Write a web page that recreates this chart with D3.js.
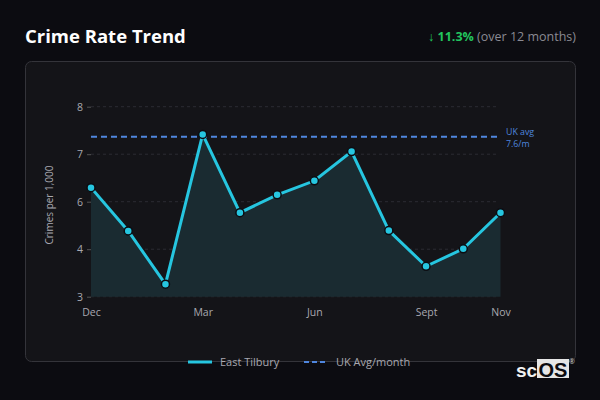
<!DOCTYPE html>
<html>
<head>
<meta charset="utf-8">
<script src="https://cdn.jsdelivr.net/npm/d3@7"></script>
<style>
  body { margin: 0; background: #0c0c11; }
  svg { display: block; font-family: "Open Sans", "Noto Sans", sans-serif; }
</style>
</head>
<body>
<div id="chart"></div>
<script>
const months = ["Dec", "Jan", "Feb", "Mar", "Apr", "May", "Jun", "Jul", "Aug", "Sept", "Oct", "Nov"];
const tickMonths = ["Dec", "Mar", "Jun", "Sept", "Nov"];
const rates = [5.87, 4.73, 3.33, 7.27, 5.21, 5.68, 6.05, 6.82, 4.74, 3.8, 4.26, 5.21];
const ukAvg = 7.21;
const ukAvgLabel = ["UK avg", "7.6/m"];
const yDomain = [3, 8];

const W = 600, H = 400;
const svg = d3.select("#chart").append("svg")
    .attr("width", W)
    .attr("height", H);

svg.append("rect").attr("width", W).attr("height", H).attr("fill", "#0c0c11");

// header
svg.append("text")
    .attr("x", 25).attr("y", 43)
    .attr("fill", "#ffffff")
    .attr("font-size", 18.5).attr("font-weight", 700)
    .text("Crime Rate Trend");

const change = svg.append("text")
    .attr("x", 576).attr("y", 41)
    .attr("text-anchor", "end")
    .attr("font-size", 12.5);
change.append("tspan").attr("fill", "#22c55e").text("↓ ");
change.append("tspan").attr("fill", "#22c55e").attr("font-weight", 700).text("11.3%");
change.append("tspan").attr("fill", "#8a8a92").text(" (over 12 months)");

// card
svg.append("rect")
    .attr("x", 25.5).attr("y", 61.5)
    .attr("width", 550).attr("height", 300)
    .attr("rx", 6)
    .attr("fill", "#141418")
    .attr("stroke", "#34343a");

const x = d3.scalePoint().domain(months).range([91, 500.5]);
const y = d3.scaleLinear().domain(yDomain).range([296.7, 106.7]);

// grid
const yTicks = d3.range(5).map(i => yDomain[0] + i * (yDomain[1] - yDomain[0]) / 4);
svg.append("g")
    .selectAll("line")
    .data(yTicks)
    .join("line")
    .attr("x1", 91).attr("x2", 497)
    .attr("y1", d => y(d)).attr("y2", d => y(d))
    .attr("stroke", "#2c2c33")
    .attr("stroke-dasharray", "3,3");

// y axis
const yAxis = svg.append("g")
    .attr("transform", "translate(91,0)")
    .call(d3.axisLeft(y).tickValues(yTicks).tickFormat(d3.format(".0f")).tickSize(4).tickPadding(4));
yAxis.select(".domain").remove();
yAxis.selectAll(".tick line").attr("stroke", "#555");
yAxis.selectAll(".tick text").attr("fill", "#a8a8b0").attr("font-size", 10.5)
    .attr("font-family", "\"Open Sans\", sans-serif");

svg.append("text")
    .attr("transform", "translate(53,205) rotate(-90)")
    .attr("text-anchor", "middle")
    .attr("fill", "#a8a8b0")
    .attr("font-size", 10)
    .text("Crimes per 1,000");

// x axis
const xAxis = svg.append("g")
    .attr("transform", "translate(0,300)")
    .call(d3.axisBottom(x).tickValues(tickMonths).tickSize(0).tickPadding(9));
xAxis.select(".domain").remove();
xAxis.selectAll(".tick text").attr("fill", "#a8a8b0").attr("font-size", 10.5)
    .attr("font-family", "\"Open Sans\", sans-serif");

// area + line
const area = d3.area()
    .x((d, i) => x(months[i]))
    .y0(y(yDomain[0]))
    .y1(d => y(d));
svg.append("path")
    .datum(rates)
    .attr("d", area)
    .attr("fill", "#1a2b31");

// uk average
svg.append("line")
    .attr("x1", 91).attr("x2", 497)
    .attr("y1", y(ukAvg)).attr("y2", y(ukAvg))
    .attr("stroke", "#4f86de")
    .attr("stroke-width", 2)
    .attr("stroke-dasharray", "6,4");
svg.append("g")
    .selectAll("text")
    .data(ukAvgLabel)
    .join("text")
    .attr("x", 506)
    .attr("y", (d, i) => y(ukAvg) - 2 + i * 12)
    .attr("fill", "#4f86de")
    .attr("font-size", 8.8)
    .text(d => d);

const line = d3.line()
    .x((d, i) => x(months[i]))
    .y(d => y(d));
svg.append("path")
    .datum(rates)
    .attr("d", line)
    .attr("fill", "none")
    .attr("stroke", "#26c6e0")
    .attr("stroke-width", 3)
    .attr("stroke-linejoin", "miter");

svg.append("g")
    .selectAll("circle")
    .data(rates)
    .join("circle")
    .attr("cx", (d, i) => x(months[i]))
    .attr("cy", d => y(d))
    .attr("r", 4)
    .attr("fill", "#26c6e0")
    .attr("stroke", "#0c0c11")
    .attr("stroke-width", 1.5);

// legend
const legend = svg.append("g").attr("transform", "translate(0,362)");
legend.append("line")
    .attr("x1", 188).attr("x2", 212)
    .attr("stroke", "#26c6e0").attr("stroke-width", 3);
legend.append("text")
    .attr("x", 220).attr("y", 4)
    .attr("fill", "#a8a8b0").attr("font-size", 11)
    .text("East Tilbury");
legend.append("line")
    .attr("x1", 304).attr("x2", 328)
    .attr("stroke", "#4f86de").attr("stroke-width", 2)
    .attr("stroke-dasharray", "5,3");
legend.append("text")
    .attr("x", 336).attr("y", 4)
    .attr("fill", "#a8a8b0").attr("font-size", 11)
    .text("UK Avg/month");

// watermark
const wm = svg.append("g");
wm.append("text")
    .attr("x", 516).attr("y", 377)
    .attr("fill", "#f2f2f2").attr("font-size", 19).attr("font-weight", 600)
    .attr("font-family", "\"Liberation Sans\", Arial, sans-serif")
    .text("sc");
wm.append("rect")
    .attr("x", 537).attr("y", 359)
    .attr("width", 32).attr("height", 19)
    .attr("fill", "#e6e6e6");
wm.append("text")
    .attr("x", 553).attr("y", 376.5)
    .attr("text-anchor", "middle")
    .attr("fill", "#0c0c11").attr("font-size", 20).attr("font-weight", 600)
    .attr("font-family", "\"Liberation Sans\", Arial, sans-serif")
    .text("OS");
wm.append("text")
    .attr("x", 569).attr("y", 364)
    .attr("fill", "#cccccc").attr("font-size", 7)
    .text("®");
</script>
</body>
</html>
